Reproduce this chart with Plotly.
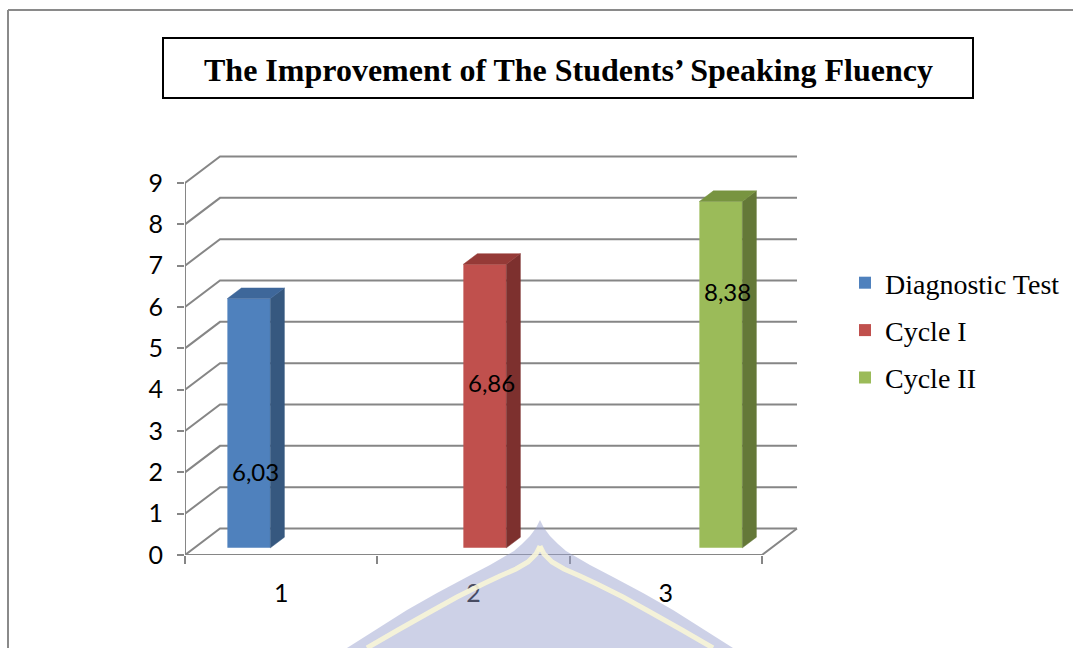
import plotly.graph_objects as go

# ---------------- data ----------------
categories = ["1", "2", "3"]
series_names = ["Diagnostic Test", "Cycle I", "Cycle II"]
series_values = [6.03, 6.86, 8.38]          # one value per series
series_category = [1, 2, 3]                 # category each value belongs to
value_labels = ["6,03", "6,86", "8,38"]
y_ticks = [0, 1, 2, 3, 4, 5, 6, 7, 8, 9]
title_text = "The Improvement of The Students\u2019 Speaking Fluency"

# ---------------- style ----------------
front_cols = ["#4F81BD", "#C0504D", "#9BBB59"]
side_cols = ["#36587F", "#7D302E", "#647838"]
top_cols = ["#3E679A", "#953A37", "#789440"]
grid_col = "#868686"
label_frac = [0.337, 0.607, 0.762]   # where Excel placed the data labels

W, H = 1073, 648
ML, MR, MT, MB = 185, 273, 150, 93
PW, PH = W - ML - MR, H - MT - MB
px_per_x = 577 / 3.0
px_per_y = 372 / 9.0
x0 = 0.5
x_max = x0 + PW / px_per_x
y_max = PH / px_per_y
dx = 35 / px_per_x          # depth offset of the back wall
dy = 26.5 / px_per_y
f0, f1 = 0.27, 0.67         # bar depth fractions
bw = 43 / px_per_x          # bar width
clus = 0.227                # cluster spacing

def px2paper(px, py):
    return (px - ML) / PW, (H - MB - py) / PH

fig = go.Figure()

# gridlines (back wall + left wall) and floor
gx, gy = [], []
x_end = x0 + len(categories)
for v in y_ticks:
    gx += [x0, x0 + dx, x_end + dx, None]
    gy += [v, v + dy, v + dy, None]
gx += [x0, x_end, x_end + dx, None, x0, x0]
gy += [0, 0, dy, None, 0, y_ticks[-1]]
fig.add_trace(go.Scatter(x=gx, y=gy, mode="lines",
                         line=dict(color=grid_col, width=2),
                         hoverinfo="skip", showlegend=False,
                         xaxis="x", yaxis="y"))

# bars (overlay subplot so they are drawn above the gridlines)
annotations = []
for i, (name, v, c) in enumerate(zip(series_names, series_values, series_category)):
    xc = c + (i - 1) * clus + 0.01
    xf = xc + f0 * dx
    xl, xr = xf - bw / 2, xf + bw / 2
    b0 = f0 * dy
    ddx, ddy = (f1 - f0) * dx, (f1 - f0) * dy
    fig.add_trace(go.Bar(x=[xf], y=[v], base=[b0], width=[bw], name=name,
                         marker=dict(color=front_cols[i], line=dict(width=0)),
                         legendgroup=name, xaxis="x2", yaxis="y2",
                         hoverinfo="skip"))
    fig.add_trace(go.Scatter(x=[xr, xr + ddx, xr + ddx, xr, xr],
                             y=[b0, b0 + ddy, v + b0 + ddy, v + b0, b0],
                             fill="toself", fillcolor=side_cols[i], mode="lines",
                             line=dict(width=0.5, color=side_cols[i]),
                             showlegend=False, hoverinfo="skip",
                             xaxis="x2", yaxis="y2"))
    fig.add_trace(go.Scatter(x=[xl, xr, xr + ddx, xl + ddx, xl],
                             y=[v + b0, v + b0, v + b0 + ddy, v + b0 + ddy, v + b0],
                             fill="toself", fillcolor=top_cols[i], mode="lines",
                             line=dict(width=0.5, color=top_cols[i]),
                             showlegend=False, hoverinfo="skip",
                             xaxis="x2", yaxis="y2"))
    annotations.append(dict(x=xf + ddx / 2, y=v * label_frac[i], xref="x2", yref="y2",
                            text=value_labels[i], showarrow=False,
                            font=dict(family="Lato", size=24, color="black")))

# title box
tx0, ty0 = px2paper(163, 38)
tx1, ty1 = px2paper(973, 98)
tcx, tcy = px2paper(568, 70)
annotations.append(dict(x=tcx, y=tcy, xref="paper", yref="paper", text="<b>" + title_text + "</b>",
                        showarrow=False, xanchor="center", yanchor="middle",
                        font=dict(family="Liberation Serif", size=32, color="black")))

shapes = []
shapes.append(dict(type="rect", xref="paper", yref="paper", x0=tx0, y0=ty0, x1=tx1, y1=ty1,
                   line=dict(color="black", width=2), fillcolor="rgba(0,0,0,0)"))
# outer page border
bx0, by0 = px2paper(8, 10)
bx1, by1 = px2paper(W, 10)
bx2, by2 = px2paper(8, H)
shapes.append(dict(type="line", xref="paper", yref="paper", x0=bx0, y0=by0, x1=bx1, y1=by1,
                   line=dict(color="#8A8A8A", width=2)))
shapes.append(dict(type="line", xref="paper", yref="paper", x0=bx0, y0=by0, x1=bx2, y1=by2,
                   line=dict(color="#8A8A8A", width=2)))

# faint watermark (document background)
def pth(points, close=True):
    s = ""
    for k, (a, b) in enumerate(points):
        pxp, pyp = px2paper(a, b)
        s += ("M" if k == 0 else "L") + f"{pxp:.5f},{pyp:.5f} "
    return s + ("Z" if close else "")

wm_left = [(540, 520), (536, 528), (530, 536), (522, 544), (514, 551), (502, 558),
           (490, 565), (467, 577), (437, 593), (407, 610), (377, 629), (347, 648)]
wm_outer = wm_left + [(1080 - a, b) for a, b in reversed(wm_left)]
shapes.append(dict(type="path", xref="paper", yref="paper", path=pth(wm_outer),
                   fillcolor="rgba(150,158,205,0.48)", line=dict(width=0), layer="above"))
wm_yl = [(540, 546), (536, 554), (528, 562), (516, 569), (500, 576), (483, 584),
         (457, 597), (430, 612), (398, 630), (367, 648)]
wm_yr = [(1080 - a, b) for a, b in wm_yl]
for seg in (wm_yl, wm_yr):
    shapes.append(dict(type="path", xref="paper", yref="paper", path=pth(seg, close=False),
                       line=dict(color="rgba(248,245,215,0.9)", width=5), layer="above"))
dcx, dcy = px2paper(537, 546)
dcx2, dcy2 = px2paper(543, 552)
shapes.append(dict(type="circle", xref="paper", yref="paper", x0=dcx, y0=dcy, x1=dcx2, y1=dcy2,
                   fillcolor="rgba(248,245,215,0.9)", line=dict(width=0), layer="above"))

fig.update_layout(
    width=W, height=H, autosize=False,
    margin=dict(l=ML, r=MR, t=MT, b=MB),
    paper_bgcolor="white", plot_bgcolor="rgba(0,0,0,0)",
    barmode="overlay",
    xaxis=dict(range=[x0, x_max], tickvals=[1, 2, 3], ticktext=categories,
               ticks="", showgrid=False, zeroline=False, showline=False,
               tickfont=dict(family="Lato", size=25, color="black"),
               ticklabelstandoff=21, fixedrange=True),
    yaxis=dict(range=[0, y_max], tickvals=y_ticks, ticks="outside", ticklen=7,
               tickcolor=grid_col, tickwidth=2, showgrid=False, zeroline=False,
               showline=False, tickfont=dict(family="Lato", size=25, color="black"),
               ticklabelstandoff=9, fixedrange=True),
    xaxis2=dict(overlaying="x", matches="x", range=[x0, x_max],
                tickvals=[x0 + k for k in range(len(categories) + 1)],
                ticks="outside", ticklen=8, tickwidth=2, tickcolor=grid_col,
                showticklabels=False, showgrid=False, zeroline=False, showline=False,
                side="bottom", fixedrange=True),
    yaxis2=dict(overlaying="y", matches="y", range=[0, y_max], visible=False, fixedrange=True),
    legend=dict(xref="container", yref="container", x=845 / W, y=1 - 258 / H,
                xanchor="left", yanchor="top", bgcolor="rgba(0,0,0,0)",
                font=dict(family="Liberation Serif", size=28, color="black"),
                tracegroupgap=8, itemclick=False, itemdoubleclick=False),
    annotations=annotations, shapes=shapes,
    showlegend=True,
)

fig.write_html("out.html")
